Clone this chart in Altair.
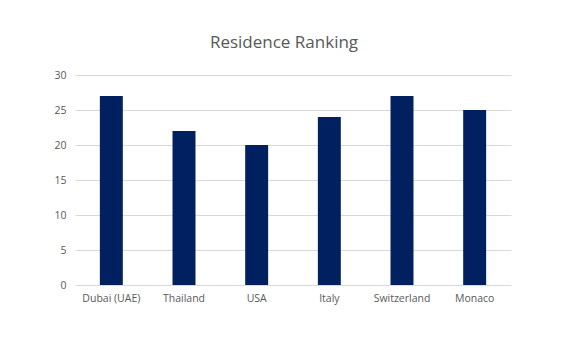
import altair as alt
import pandas as pd

countries = ["Dubai (UAE)", "Thailand", "USA", "Italy", "Switzerland", "Monaco"]
ranking = [27, 22, 20, 24, 27, 25]

df = pd.DataFrame({"country": countries, "ranking": ranking})

chart = alt.Chart(df).mark_bar(color="#002060").encode(
    x=alt.X("country:N", sort=countries, title=None,
            scale=alt.Scale(paddingInner=0.684, paddingOuter=0.342),
            axis=alt.Axis(labelAngle=0, domain=False, ticks=False, grid=False, labelPadding=8,
                          labelFont="Open Sans", labelFontSize=10.5, labelColor="#595959")),
    y=alt.Y("ranking:Q", title=None,
            scale=alt.Scale(domain=[0, 30]),
            axis=alt.Axis(values=[0, 5, 10, 15, 20, 25, 30], domain=False, ticks=False,
                          labelPadding=9, gridColor="#d9d9d9", gridWidth=1,
                          labelFont="Open Sans", labelFontSize=10.5, labelColor="#595959")),
).properties(
    width=436, height=210,
    title=alt.TitleParams("Residence Ranking", font="Open Sans", fontSize=17,
                          fontWeight="normal", color="#595959", offset=18, dx=-9,
                          anchor="middle"),
    autosize=alt.AutoSizeParams(type="none"),
    padding={"left": 67, "top": 67, "right": 48, "bottom": 60},
).configure(background="white").configure_view(stroke=None, strokeWidth=0)

chart.save("out.html", embed_options={"renderer": "svg", "actions": False})
